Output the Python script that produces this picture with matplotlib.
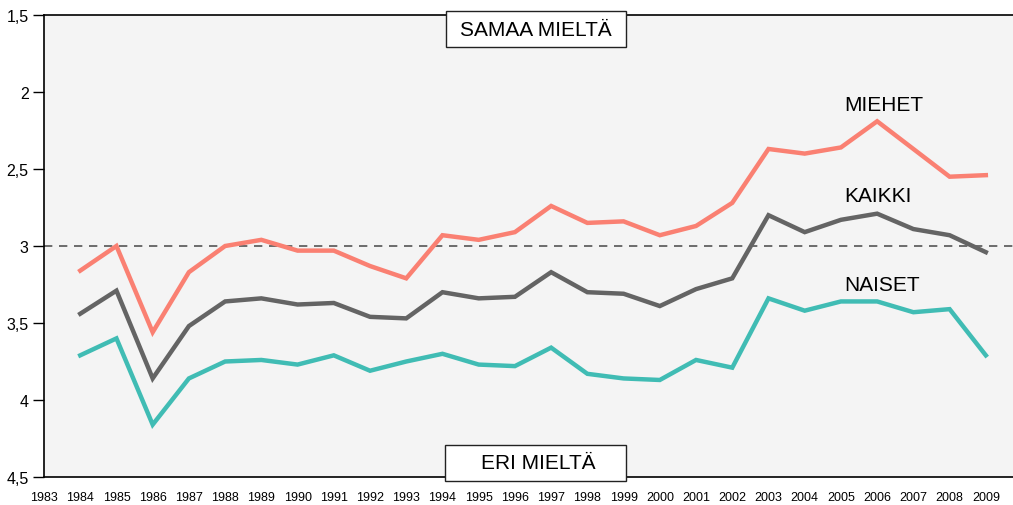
import matplotlib
matplotlib.use("Agg")
import matplotlib.pyplot as plt
from matplotlib.patches import Rectangle

plt.rcParams['font.family'] = ['Liberation Sans', 'DejaVu Sans']

years = list(range(1984, 2010))
miehet = [3.16, 3.00, 3.56, 3.17, 3.00, 2.96, 3.03, 3.03, 3.13, 3.21, 2.93, 2.96, 2.91,
          2.74, 2.85, 2.84, 2.93, 2.87, 2.72, 2.37, 2.40, 2.36, 2.19, 2.37, 2.55, 2.54]
kaikki = [3.44, 3.29, 3.86, 3.52, 3.36, 3.34, 3.38, 3.37, 3.46, 3.47, 3.30, 3.34, 3.33,
          3.17, 3.30, 3.31, 3.39, 3.28, 3.21, 2.80, 2.91, 2.83, 2.79, 2.89, 2.93, 3.04]
naiset = [3.71, 3.60, 4.16, 3.86, 3.75, 3.74, 3.77, 3.71, 3.81, 3.75, 3.70, 3.77, 3.78,
          3.66, 3.83, 3.86, 3.87, 3.74, 3.79, 3.34, 3.42, 3.36, 3.36, 3.43, 3.41, 3.71]
xtick_years = list(range(1983, 2010))
yticks = [1.5, 2.0, 2.5, 3.0, 3.5, 4.0, 4.5]
ytick_labels = ["1,5", "2", "2,5", "3", "3,5", "4", "4,5"]
series_labels = ["MIEHET", "KAIKKI", "NAISET"]
colors = ["#fa8072", "#646464", "#40bcb4"]

fig = plt.figure(figsize=(10.13, 5.06), dpi=100)
ax = fig.add_axes([44/1013, 1-478/506, 1-44/1013, (478-16)/506])
ax.set_facecolor("#f4f4f4")

ax.axhline(3.0, color="#555555", lw=1.2, ls=(0, (5, 4)), zorder=1)
for vals, c in zip([miehet, kaikki, naiset], colors):
    ax.plot(years, vals, color=c, lw=3.2, solid_joinstyle="miter", zorder=3)

ax.set_xlim(1983, 2009.75)
ax.set_ylim(4.5, 1.5)
ax.set_yticks(yticks)
ax.set_yticklabels(ytick_labels, fontsize=11.5)
ax.set_xticks(xtick_years)
ax.set_xticklabels([str(y) for y in xtick_years], fontsize=9)
ax.tick_params(axis='x', length=0, pad=10)
ax.tick_params(axis='y', length=8, width=1, pad=3)
ax.spines['right'].set_visible(False)
for s in ['left', 'bottom', 'top']:
    ax.spines[s].set_linewidth(1.2)

label_pos = [(2005.1, 2.08), (2005.1, 2.67), (2005.1, 3.25)]
for lab, (x, y) in zip(series_labels, label_pos):
    ax.text(x, y, lab, fontsize=15, ha="left", va="center", zorder=4)

# boxed annotations
for (x0, y0, x1, y1), txt, tx in [((446, 12, 626, 48), "SAMAA MIELTÄ", 536),
                                   ((445, 446, 626, 482), "ERI MIELTÄ", 538)]:
    fig.patches.append(Rectangle((x0/1013, 1-y1/506), (x1-x0)/1013, (y1-y0)/506,
                                 transform=fig.transFigure, facecolor="white",
                                 edgecolor="#222222", lw=1, zorder=5))
    fig.text(tx/1013, 1-((y0+y1)/2)/506, txt, fontsize=15, ha="center", va="center", zorder=6)

fig.savefig("out.png", dpi=100)
